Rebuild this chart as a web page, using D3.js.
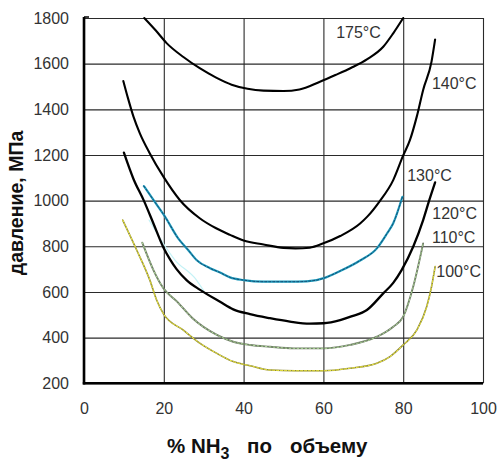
<!DOCTYPE html>
<html>
<head>
<meta charset="utf-8">
<script src="https://cdn.jsdelivr.net/npm/d3@7"></script>
<style>
  html, body { margin: 0; padding: 0; background: #fff; }
  svg { display: block; font-family: "Liberation Sans", Arial, sans-serif; }
  .tick text { font-size: 16px; fill: #333; }
  .lbl { font-size: 16px; fill: #333; }
  .title { font-weight: bold; fill: #111; }
</style>
</head>
<body>
<svg id="chart" width="499" height="462"></svg>
<script>
// Axis ticks
const xTicks = [0, 20, 40, 60, 80, 100];
const yTicks = [200, 400, 600, 800, 1000, 1200, 1400, 1600, 1800];

// Isotherms: [% NH3 by volume, pressure MPa]
const t175 = [[15.1,1800],[18,1745],[20.7,1690],[25,1628],[29,1580],[33,1540],[37,1508],[41,1490],[45,1482],[50,1480],[54,1487],[59,1520],[63,1550],[67,1582],[71,1620],[75,1674],[77.5,1733],[80,1800]];
const t140 = [[9.85,1524],[11,1450],[12.4,1368],[14,1295],[16.5,1207],[19.9,1105],[24,1003],[29,923],[33,880],[36.6,850],[40,825],[45,808],[50,793],[53,791],[56.6,794],[60,813],[64.2,845],[69.2,900],[71,930],[74,995],[77.5,1090],[80,1198],[81.7,1266],[83.4,1368],[85,1485],[87.1,1609],[88,1706]];
const t130 = [[10,1210],[12.4,1095],[15,1000],[17.4,900],[19.9,795],[21.6,742],[23.2,700],[25.7,652],[29.1,609],[34.1,557],[37.4,524],[41.6,503],[46.6,485],[51.6,470],[56.6,461],[60,463],[64.2,477],[67,493],[70.9,521],[75,594],[77.5,640],[79.6,696],[82.5,798],[85,915],[86.5,1000],[88,1080]];
const t120 = [[15,1064],[17.4,1003],[20.3,930],[23.6,835],[26.1,784],[28.2,740],[31.6,704],[34.1,685],[36.6,664],[40,652],[45,645],[53.3,645],[58.3,652],[60,660],[64.2,692],[69.2,738],[73.4,791],[75.9,855],[77.5,901],[79.8,1017]];
const t110 = [[14.6,816],[17.4,696],[19.9,616],[23.2,560],[27.2,485],[33.3,412],[37.4,382],[41.6,368],[46.6,360],[52.5,353],[60,353],[66.7,368],[73.4,404],[77.5,448],[80,492],[82.5,623],[85,813]];
const t100 = [[9.7,915],[13.2,784],[16.5,652],[18.2,565],[20,502],[24.9,433],[29.1,375],[33.3,331],[37.4,295],[41.6,277],[46.6,258],[53,255],[60,255],[66.7,266],[73.4,288],[76.7,317],[80,368],[83.4,433],[85.9,536],[87.1,623],[88,711]];
const t130faint = [[16.3,915],[22.8,740],[28.2,652],[30,605]];

// Curve labels with the point they sit next to: [x, pressure]
const labels = ["175°C", "140°C", "130°C", "120°C", "110°C", "100°C"];
const labelAt = [[63.2,1735],[87.2,1515],[81,1112],[87.3,943],[87.2,840],[88.3,690]];

const svg = d3.select("#chart");
const x = d3.scaleLinear().domain([0, 100]).range([84, 483]);
const y = d3.scaleLinear().domain([200, 1800]).range([383.3, 18]);
const plotW = x(100) - x(0), plotH = y(200) - y(1800);

// Grid via axes
const gy = svg.append("g").attr("transform", `translate(${x(0)},0)`)
  .call(d3.axisLeft(y).tickValues(yTicks).tickSize(-plotW).tickPadding(15).tickFormat(d3.format("d")));
gy.select(".domain").remove();
gy.selectAll(".tick line").attr("stroke", "#2a2a2a").attr("stroke-width", 1.1);

const gx = svg.append("g").attr("transform", `translate(0,${y(200)})`)
  .call(d3.axisBottom(x).tickValues(xTicks).tickSize(-plotH).tickPadding(19));
gx.select(".domain").remove();
gx.selectAll(".tick line").attr("stroke", "#2a2a2a").attr("stroke-width", 1.1);

// Frame: heavy left and bottom axes
svg.append("line").attr("x1", x(0)).attr("x2", x(0)).attr("y1", y(1800) - 1).attr("y2", y(200) + 1.2)
  .attr("stroke", "#000").attr("stroke-width", 2.6);
svg.append("line").attr("x1", x(0) - 1.2).attr("x2", x(100)).attr("y1", y(200)).attr("y2", y(200))
  .attr("stroke", "#000").attr("stroke-width", 2.6);
svg.append("line").attr("x1", x(0)).attr("x2", x(0) + 5).attr("y1", y(1800) - 1).attr("y2", y(1800) - 1)
  .attr("stroke", "#000").attr("stroke-width", 1.5);

const line = d3.line().x(d => x(d[0])).y(d => y(d[1])).curve(d3.curveMonotoneX);

function draw(data, stroke, width, opts = {}) {
  svg.append("path").attr("d", line(data)).attr("fill", "none")
    .attr("stroke", stroke).attr("stroke-width", width)
    .attr("stroke-linejoin", "round").attr("stroke-linecap", "round")
    .attr("opacity", opts.opacity ?? 1)
    .attr("stroke-dasharray", opts.dash ?? null);
}

draw(t130faint, "#c4f2f6", 1.2);
draw(t175, "#000", 2.1);
draw(t140, "#000", 2.1);
draw(t130, "#000", 2.3);
// 120°C: teal with darker dotted core
draw(t120, "#1f9cbd", 2.2);
draw(t120, "#134a72", 1, { dash: "2,2" });
// 110°C: grey-green with light green dots
draw(t110, "#6f7d66", 1.9);
draw(t110, "#b6e49e", 0.9, { dash: "1.5,2.5" });
// 100°C: olive with yellow dots
draw(t100, "#8f8a3a", 1.6);
draw(t100, "#f2ee3c", 1, { dash: "2,2" });

// Curve labels
svg.selectAll(".lbl").data(labels).join("text")
  .attr("class", "lbl")
  .attr("x", (d, i) => x(labelAt[i][0]))
  .attr("y", (d, i) => y(labelAt[i][1]))
  .attr("dominant-baseline", "central")
  .text(d => d);

// Axis titles
svg.append("text").attr("class", "title")
  .attr("transform", `translate(16,203) rotate(-90)`)
  .attr("text-anchor", "middle").attr("dominant-baseline", "central")
  .attr("font-size", 19.5)
  .text("давление, МПа");

const xt = svg.append("text").attr("class", "title")
  .attr("y", 453).attr("font-size", 20.5);
xt.append("tspan").attr("x", 167).text("% NH");
xt.append("tspan").attr("font-size", 16).attr("dy", 6).text("3");
xt.append("tspan").attr("x", 247).attr("dy", -6).text("по");
xt.append("tspan").attr("x", 290).text("объему");
</script>
</body>
</html>
